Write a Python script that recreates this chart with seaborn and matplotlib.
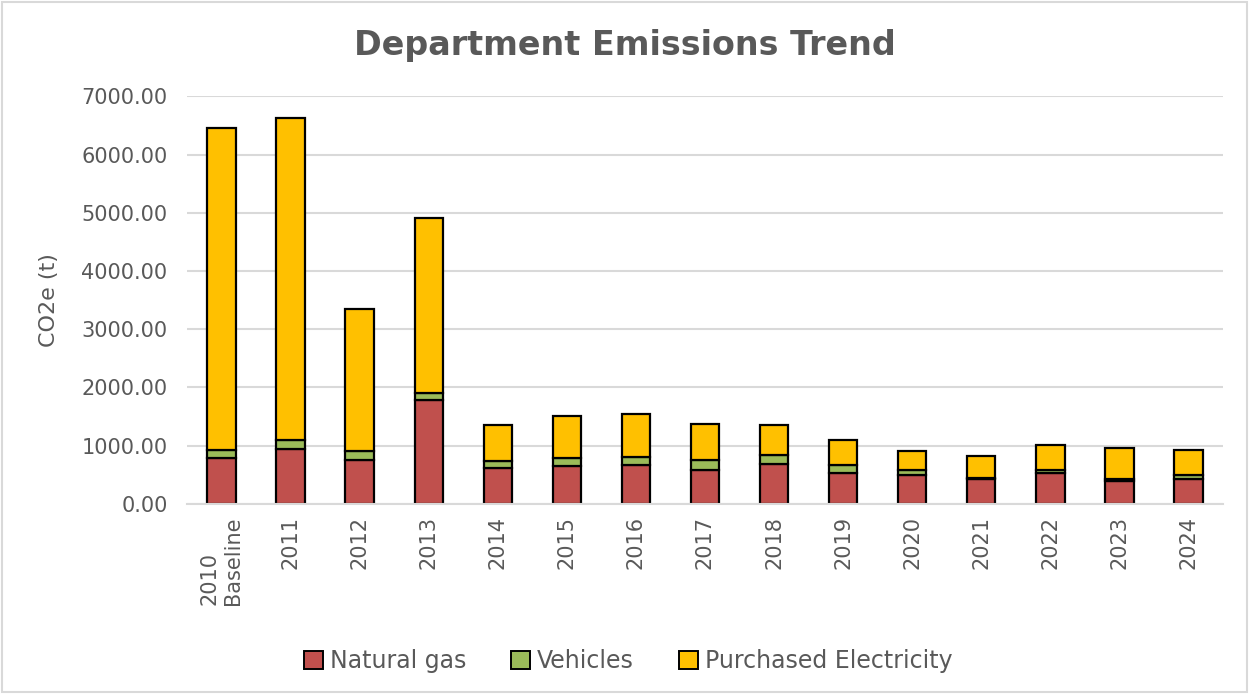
import matplotlib
matplotlib.use("Agg")
import matplotlib.pyplot as plt
from matplotlib.patches import Rectangle, Patch
import seaborn as sns
import numpy as np

years = ["2010\nBaseline", "2011", "2012", "2013", "2014", "2015", "2016", "2017",
         "2018", "2019", "2020", "2021", "2022", "2023", "2024"]
natural_gas = [780, 945, 750, 1792, 613, 642, 670, 584, 693, 522, 493, 419, 533, 395, 419]
vehicles = [142, 144, 150, 114, 120, 143, 137, 166, 143, 148, 86, 28, 46, 35, 74]
electricity = [5534, 5534, 2443, 3005, 618, 732, 738, 630, 515, 424, 321, 367, 429, 521, 429]

series_names = ["Natural gas", "Vehicles", "Purchased Electricity"]
series_colors = ["#C0504D", "#9BBB59", "#FFC000"]
y_ticks = [0, 1000, 2000, 3000, 4000, 5000, 6000, 7000]

text_color = "#595959"
grid_color = "#D9D9D9"

sns.set_theme(style="white")
plt.rcParams["font.family"] = ["DejaVu Sans"]

fig = plt.figure(figsize=(12.49, 6.94), dpi=100)
ax = fig.add_axes([0.1497, 0.274, 0.8295, 0.587])

bottom = np.zeros(len(years))
for name, vals, col in zip(series_names, [natural_gas, vehicles, electricity], series_colors):
    sns.barplot(x=years, y=vals, bottom=bottom, color=col, saturation=1,
                edgecolor="black", linewidth=1.6, width=0.41, ax=ax, order=years)
    bottom = bottom + np.array(vals)

ax.set_xlim(-0.5, len(years) - 0.5)
ax.set_ylim(0, 7000)
ax.set_yticks(y_ticks)
ax.set_yticklabels([f"{v:.2f}" for v in y_ticks], fontsize=15, color=text_color)
ax.set_xticks(range(len(years)))
ax.set_xticklabels(years, rotation=90, fontsize=15, color=text_color,
                   va="top", ha="center", multialignment="left")
ax.tick_params(axis="x", length=0, pad=9)
ax.tick_params(axis="y", length=0, pad=14)
ax.yaxis.grid(True, color=grid_color, linewidth=1.5)
ax.set_axisbelow(True)
for side in ["top", "right", "left"]:
    ax.spines[side].set_visible(False)
ax.spines["bottom"].set_color(grid_color)
ax.spines["bottom"].set_linewidth(1.5)
ax.set_ylabel("CO2e (t)", fontsize=16, color=text_color, labelpad=16)
ax.set_xlabel("")

fig.text(0.5, 0.935, "Department Emissions Trend", fontsize=24, fontweight="bold",
         color=text_color, ha="center", va="center")

handles = [Patch(facecolor=c, edgecolor="black", linewidth=1.4) for c in series_colors]
fig.legend(handles, series_names, loc="center", bbox_to_anchor=(0.503, 0.047), ncol=3,
           frameon=False, fontsize=17, labelcolor=text_color, handlelength=0.8,
           handleheight=0.8, handletextpad=0.3, columnspacing=1.9)

fig.patches.append(Rectangle((0.002, 0.003), 0.996, 0.994, transform=fig.transFigure,
                             fill=False, edgecolor="#D9D9D9", linewidth=1.5))

fig.savefig("out.png", dpi=100)
